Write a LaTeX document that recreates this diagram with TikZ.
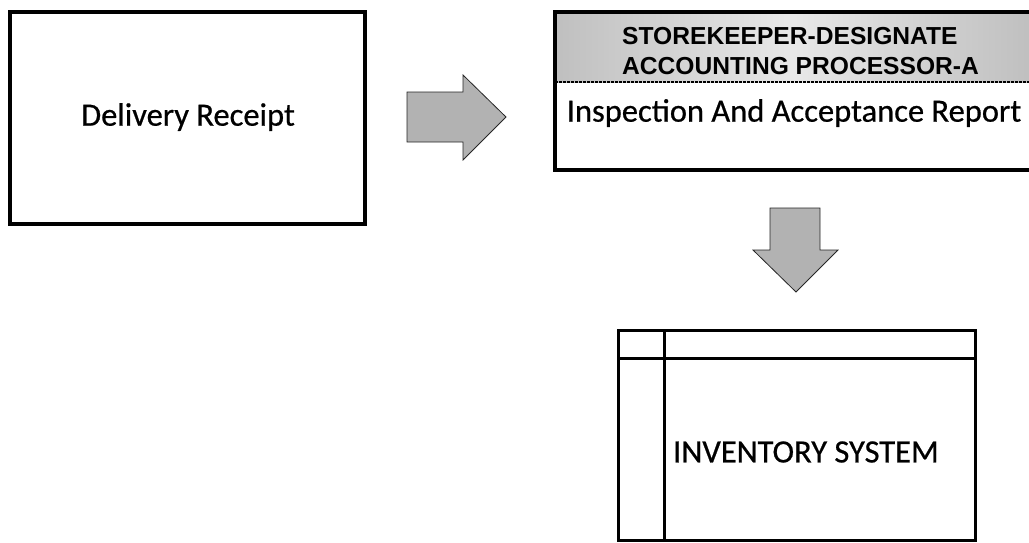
\documentclass[tikz,border=0pt]{standalone}
\usepackage{fontspec}
\setmainfont{Carlito}
\newfontfamily\scanfont[FakeBold=0.6]{Carlito}
\newfontfamily\hdrfont{Liberation Sans}
\usetikzlibrary{positioning}
\begin{document}
\begin{tikzpicture}[x=1pt,y=-1pt,
  boxline/.style={draw=black,line width=3.6pt},
  thinline/.style={draw=black,line width=3pt},
  blockarrow/.style={draw=black!85,line width=0.8pt,fill=gray!60,line join=miter},
  lbl/.style={font=\scanfont\fontsize{32.5}{36}\selectfont,inner sep=0pt,anchor=center},
  hdr/.style={font=\hdrfont\bfseries\fontsize{24.6}{28}\selectfont,inner sep=0pt,anchor=west}]
\useasboundingbox (0,0) rectangle (1029,542);
% Delivery Receipt box
\draw[boxline] (10,12) rectangle (365,224);
\node[lbl] (dr) at (188,117) {Delivery Receipt};
% right block arrow
\draw[blockarrow] (407,92) -- (463,92) -- (463,75) -- (506,117) -- (463,160) -- (463,142) -- (407,142) -- cycle;
% Inspection box
\fill[left color=gray!50,right color=gray!18] (555,12) rectangle (793,82);
\fill[left color=gray!18,right color=gray!50] (793,12) rectangle (1031,82);
\draw[black,line width=1.2pt,dash pattern=on 3pt off 1pt] (555,82) -- (1031,82);
\draw[boxline] (555,12) rectangle (1033,170);
\node[hdr] (h1) at (622,36.5) {STOREKEEPER-DESIGNATE};
\node[hdr] (h2) at (622,66.5) {ACCOUNTING PROCESSOR-A};
\node[lbl] (iar) at (794,113) {Inspection And Acceptance Report};
% down block arrow
\draw[blockarrow] (770,208) -- (820,208) -- (820,250) -- (838,250) -- (796,292) -- (753,250) -- (770,250) -- cycle;
% Inventory system box
\draw[thinline] (618,330) rectangle (975,540);
\draw[thinline] (618,358) -- (975,358);
\draw[thinline] (664,330) -- (664,540);
\node[lbl] (inv) at (806,452) {INVENTORY SYSTEM};
\end{tikzpicture}
\end{document}
